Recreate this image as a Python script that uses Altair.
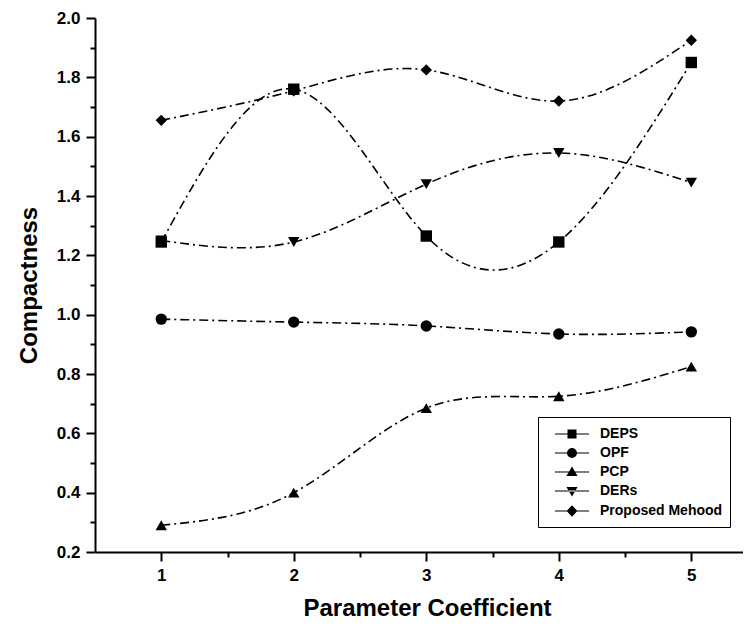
import altair as alt
import pandas as pd

# ---- data ----
param = [1, 2, 3, 4, 5]
deps = [1.245, 1.76, 1.265, 1.245, 1.85]
opf = [0.985, 0.975, 0.962, 0.935, 0.942]
pcp = [0.29, 0.40, 0.685, 0.725, 0.825]
ders = [1.25, 1.245, 1.44, 1.545, 1.445]
proposed = [1.655, 1.755, 1.825, 1.72, 1.925]

series_names = ["DEPS", "OPF", "PCP", "DERs", "Proposed Mehood"]
series_values = [deps, opf, pcp, ders, proposed]

x_ticks = [1, 1.5, 2, 2.5, 3, 3.5, 4, 4.5, 5]
y_ticks = [0.2, 0.3, 0.4, 0.5, 0.6, 0.7, 0.8, 0.9, 1.0, 1.1, 1.2, 1.3, 1.4,
           1.5, 1.6, 1.7, 1.8, 1.9, 2.0]

rows = []
for name, vals in zip(series_names, series_values):
    for xv, yv in zip(param, vals):
        rows.append({"series": name, "x": xv, "y": yv})
df = pd.DataFrame(rows)

marker_shapes = ["square", "circle", "triangle-up", "triangle-down", "diamond"]
LINE = "M-1.9,-0.06H1.9V0.06H-1.9Z"
legend_shapes = [
    LINE + "M-0.5,-0.5H0.5V0.5H-0.5Z",
    LINE + "M0.55,0A0.55,0.55,0,1,1,-0.55,0A0.55,0.55,0,1,1,0.55,0Z",
    LINE + "M0,-0.6L0.62,0.45L-0.62,0.45Z",
    LINE + "M0,0.6L0.62,-0.45L-0.62,-0.45Z",
    LINE + "M0,-0.65L0.6,0L0,0.65L-0.6,0Z",
]

FONT = "Liberation Sans"

x_enc = alt.X(
    "x:Q",
    scale=alt.Scale(domain=[0.5, 5.39], nice=False, zero=False),
    axis=alt.Axis(
        values=x_ticks,
        labelExpr="datum.value % 1 === 0 ? format(datum.value, 'd') : ''",
        tickSize={"condition": {"test": "datum.value % 1 === 0", "value": 9}, "value": 5},
        title="Parameter Coefficient",
        titleX=332,
        titleY=56,
        titleBaseline="middle",
        labelPadding=6,
    ),
)
y_enc = alt.Y(
    "y:Q",
    scale=alt.Scale(domain=[0.2, 2.0], nice=False, zero=False),
    axis=alt.Axis(
        values=y_ticks,
        labelExpr="round(datum.value * 10) % 2 === 0 ? format(datum.value, '.1f') : ''",
        tickSize={"condition": {"test": "round(datum.value * 10) % 2 === 0", "value": 9}, "value": 5},
        title="Compactness",
        titleX=-66,
        titleY=267,
        titleAngle=-90,
        titleBaseline="middle",
        titleAlign="center",
        labelPadding=6,
    ),
)

base = alt.Chart(df)

lines = base.mark_line(
    interpolate="natural", color="black", strokeWidth=1.6, strokeDash=[9, 4, 2, 4]
).encode(x=x_enc, y=y_enc, detail="series:N")

points = base.mark_point(
    filled=True, color="black", opacity=1, size=130
).encode(
    x=x_enc,
    y=y_enc,
    shape=alt.Shape("series:N", scale=alt.Scale(domain=series_names, range=marker_shapes), legend=None),
)

legend_layer = base.transform_filter("false").mark_point(
    filled=True, color="black", opacity=1
).encode(
    x=x_enc,
    y=y_enc,
    shape=alt.Shape(
        "series:N",
        scale=alt.Scale(domain=series_names, range=legend_shapes),
        legend=alt.Legend(
            title=None,
            orient="none",
            legendX=443,
            legendY=399,
            symbolSize=324,
            symbolFillColor="black",
            symbolOpacity=1,
            symbolOffset=17,
            labelOffset=18,
            labelFont=FONT,
            labelFontSize=14,
            labelFontWeight="bold",
            labelColor="black",
            strokeColor="black",
            fillColor="white",
            padding=7,
            rowPadding=1,
            labelLimit=300,
        ),
    ),
)

chart = alt.layer(lines, points, legend_layer).resolve_scale(shape="independent").properties(
    width=648,
    height=534,
    autosize="none",
    padding={"left": 87, "top": 10, "right": 0, "bottom": 70},
).configure_view(stroke=None).configure_axis(
    grid=False,
    domainColor="black",
    domainWidth=2,
    tickColor="black",
    tickWidth=2,
    labelFont=FONT,
    labelFontWeight="bold",
    labelFontSize=17,
    labelColor="black",
    titleFont=FONT,
    titleFontWeight="bold",
    titleFontSize=24,
    titleColor="black",
)

chart.save("out.html", embed_options={"renderer": "svg", "actions": False})
